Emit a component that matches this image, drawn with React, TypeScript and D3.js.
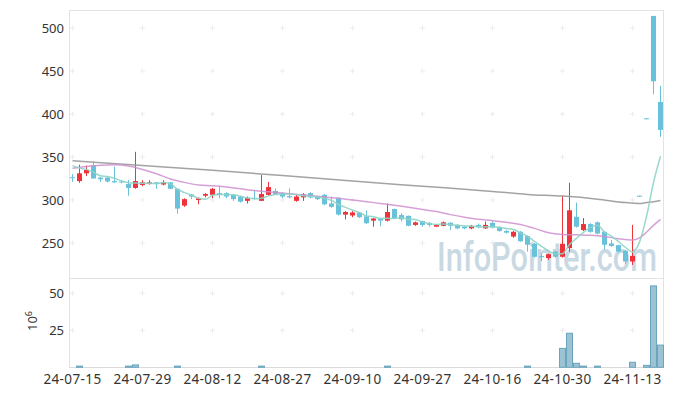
import React from "react";
import * as d3 from "d3";

const dates = [
  "24-07-15","24-07-16","24-07-17","24-07-18","24-07-19","24-07-22","24-07-23","24-07-24","24-07-25","24-07-26",
  "24-07-29","24-07-30","24-07-31","24-08-01","24-08-02","24-08-05","24-08-06","24-08-07","24-08-08","24-08-09",
  "24-08-12","24-08-13","24-08-14","24-08-16","24-08-19","24-08-20","24-08-21","24-08-22","24-08-23","24-08-26",
  "24-08-27","24-08-28","24-08-29","24-08-30","24-09-02","24-09-03","24-09-04","24-09-05","24-09-06","24-09-09",
  "24-09-10","24-09-11","24-09-12","24-09-13","24-09-19","24-09-20","24-09-23","24-09-24","24-09-25","24-09-26",
  "24-09-27","24-09-30","24-10-02","24-10-04","24-10-07","24-10-08","24-10-10","24-10-11","24-10-14","24-10-15",
  "24-10-16","24-10-17","24-10-18","24-10-21","24-10-22","24-10-23","24-10-24","24-10-25","24-10-28","24-10-29",
  "24-10-30","24-10-31","24-11-01","24-11-04","24-11-05","24-11-06","24-11-07","24-11-08","24-11-11","24-11-12",
  "24-11-13","24-11-14","24-11-15","24-11-18","24-11-19",
];

const openP = [
  326.5,322,331,340.5,326,326,322,321.5,318.5,314,
  317.5,318.5,320.5,318,320.5,313,293.5,306.5,300,305,
  306,308,308,306,304,299,302.5,299,306,310.5,
  308,304.5,299,303,308,304,306,296,302.5,283,
  282,285.5,281,276,278.5,276,289.5,282.5,281.5,271,
  275.5,273,269,270,273.5,271,269,267,271,267,
  273.5,268.5,264,257.5,263,258,249,235,232.5,240,
  234,244,280.5,265,272,274,263,249.5,247.5,241,
  228.5,305,395,514,414,
];
const highP = [
  330,341,340,344.5,327,327,339,322.5,323,356,
  323,323,321,323,321,313,302,307,303,308,
  314,316,309,307,305,304,311,329,321,313.5,
  309,313.5,306,308,309,305,307,304,303,287,
  287,286,288,279,279,296,290,284.5,282,275,
  276,274.5,272,275,274,272,270,271,272.5,275,
  275,269,265,264,264,259,250,238,237.5,241,
  305,320,297,279,273,275,264,253.5,248,242,
  271,305,395,514,432.5,
];
const lowP = [
  321,320,328,325,321,320.5,320,319.5,305,313,
  316,318,313,317,312.5,284,292,301,295,303,
  302,302,302,299,297,296,300.5,299,305,306,
  302,302,298,299,302,300,294,291,282,277.5,
  280,279,272,269,269.5,275,278,275,269.5,270,
  269,269,268.5,269.5,265,266,266,266,267,266.5,
  267,263,261,256,251.5,240,233,229,230.5,233,
  233,240,268,264,262,260,242.5,245.5,239,225.5,
  224.5,305,395,423,373.5,
];
const closeP = [
  325.8,331,335,325,324,321.5,320.5,320.5,314,322,
  320.5,320.5,318.5,320.5,313,290,301,304,302,307,
  313,306,304,301,298,302.5,301.5,307,315,306.5,
  304,303,304,306.5,303,301,295,292,283,286,
  285.5,280,273,278.5,276,286,279,277.5,270,274,
  271,271,271,274,270,267,267,270,269,271,
  268,264,262,263,252,248,234,233.5,237,234,
  249,288,269,272,263,261,248,246.5,240,228.5,
  235,305,395,438,381.5,
];
// trading volume, millions of shares
const volume = [
  0.2,0.8,0.2,0.3,0.2,0.2,0.2,0.2,0.8,1.6,
  0.3,0.2,0.2,0.2,0.2,0.8,0.3,0.2,0.2,0.2,
  0.2,0.2,0.2,0.2,0.2,0.2,0.2,0.8,0.3,0.2,
  0.2,0.2,0.2,0.2,0.2,0.2,0.2,0.2,0.3,0.2,
  0.2,0.2,0.2,0.2,0.2,0.8,0.3,0.2,0.2,0.2,
  0.2,0.2,0.2,0.2,0.2,0.2,0.2,0.2,0.2,0.2,
  0.2,0.2,0.2,0.2,0.2,0.8,0.3,0.2,0.2,0.2,
  12.8,23,2.7,0.8,0.3,0.8,0.3,0.2,0.2,0.3,
  3.4,0.6,1.3,55,15,
];
// closes of the 4 sessions before the window (for the 5-day average)
const priorCloses = [345, 343, 342, 344];
// 20-day average, read at these sessions
const ma20Idx = [0,2,4,6,8,10,12,14,16,18,20,22,24,26,28,30,32,34,36,38,40,42,44,46,48,50,52,54,56,58,60,62,64,66,68,70,72,74,76,78,80,81,82,83,84];
const ma20Val = [337,339,340.5,341,339.5,335.5,330.5,324.5,320.5,317.5,316.5,315,313,311,309.5,308,306.5,305,303.5,302,300,298,296,294,291.5,289,286.5,283,280,277.5,276,274,271.5,267,262,260,259.5,259,257.5,255,253.5,256,262.5,270.5,277.5];
// long average, read at these sessions
const maLongIdx = [0,10,20,30,40,50,60,65,70,75,79,81,82,83,84];
const maLongVal = [345.5,340,334.5,328.5,322,316,310,306.5,304.5,301,297,296,297,298,299.5];

const priceTicks = [250, 300, 350, 400, 450, 500];
const volTicks = [25, 50];

const RED = "#ee333b";
const BLUE = "#6ac2da";

export default function App() {
  const W = 673, H = 396;
  const x = d3.scaleBand<string>().domain(dates).range([69, 664]).padding(0);
  const bw = x.bandwidth();
  const cx = (i: number) => (x(dates[i]) as number) + bw / 2;
  const y = d3.scaleLinear().domain([209.3, 520.9]).range([278, 10]);
  const yv = d3.scaleLinear().domain([0, 60]).range([367.3, 278.5]);

  const all = [...priorCloses, ...closeP];
  const ma5 = closeP.map((_, i) => d3.mean(all.slice(i, i + 5)) as number);

  const line = d3.line<[number, number]>().x(d => d[0]).y(d => d[1]).curve(d3.curveMonotoneX);
  const ma5Path = line(ma5.map((v, i) => [cx(i), y(v)]));
  const ma20Path = line(ma20Idx.map((k, j) => [cx(k), y(ma20Val[j])]));
  const maLongPath = line(maLongIdx.map((k, j) => [cx(k), y(maLongVal[j])]));

  const tickIdx = dates.map((_, i) => i).filter(i => i % 10 === 0);
  const gridColor = "#ececec";
  const plus = (px: number, py: number, key: string) => (
    <g key={key} stroke={gridColor} strokeWidth={1}>
      <line x1={px - 2.5} x2={px + 2.5} y1={py} y2={py} />
      <line x1={px} x2={px} y1={py - 2.5} y2={py + 2.5} />
    </g>
  );

  return (
    <svg width={W} height={H} style={{ position: "absolute", left: 0, top: 0, background: "#fff" }}
      fontFamily="'Noto Sans', sans-serif">
      {/* watermark */}
      <text x={437} y={271} fontSize={40} fontWeight={500} fill="#c9d9e3" textLength={220}
        lengthAdjust="spacingAndGlyphs" fontFamily="Roboto, sans-serif">InfoPointer.com</text>

      {/* grid markers */}
      {tickIdx.map(i => priceTicks.map(t => plus(cx(i), y(t), `p${i}-${t}`)))}
      {tickIdx.map(i => volTicks.map(t => plus(cx(i), yv(t), `v${i}-${t}`)))}

      {/* frame */}
      <rect x={69.5} y={10.5} width={594} height={357} fill="none" stroke="#e3e3e3" />
      <line x1={69.5} x2={663.5} y1={278.5} y2={278.5} stroke="#e3e3e3" />
      <line x1={69.5} x2={663.5} y1={367.5} y2={367.5} stroke="#dadada" />

      {/* candles */}
      {dates.map((d, i) => {
        const o = openP[i], c = closeP[i], h = highP[i], l = lowP[i];
        const up = c > o;
        const col = up ? RED : BLUE;
        const left = x(d) as number;
        const top = y(Math.max(o, c));
        const bh = Math.max(1, y(Math.min(o, c)) - top);
        return (
          <g key={d} fill={col}>
            <rect x={left + 3} width={1} y={y(h)} height={Math.max(1, y(l) - y(h))} />
            <rect x={left + 1} width={5} y={top} height={bh} />
          </g>
        );
      })}

      {/* moving averages */}
      <path d={maLongPath || ""} fill="none" stroke="#999999" strokeWidth={1.5} opacity={0.9} />
      <path d={ma20Path || ""} fill="none" stroke="#cf8fd0" strokeWidth={1.5} opacity={0.85} />
      <path d={ma5Path || ""} fill="none" stroke="#8ed4c6" strokeWidth={1.5} opacity={0.9} />

      {/* volume bars */}
      {dates.map((d, i) => {
        const v = volume[i];
        const top = yv(v);
        const hgt = yv(0) - top;
        return hgt >= 1 ? (
          <rect key={`vb${d}`} x={(x(d) as number) + 0.5} width={bw - 1} y={top} height={hgt}
            fill="#9cc3d3" stroke="#6aa4bd" strokeWidth={1} />
        ) : null;
      })}

      {/* y labels */}
      {priceTicks.map(t => (
        <text key={`yl${t}`} x={64} y={y(t)} dy="0.35em" textAnchor="end" fontSize={13} fill="#333">{t}</text>
      ))}
      {volTicks.map(t => (
        <text key={`vl${t}`} x={64} y={yv(t)} dy="0.35em" textAnchor="end" fontSize={13} fill="#333">{t}</text>
      ))}
      <text transform="translate(37,321) rotate(-90)" textAnchor="middle" fontSize={13} fill="#333">
        10<tspan dy={-5} fontSize={9}>6</tspan>
      </text>

      {/* x labels */}
      {tickIdx.map(i => (
        <text key={`xl${i}`} x={cx(i)} y={383.5} textAnchor="middle" fontSize={13.5} letterSpacing={0.4}
          fill="#333">{dates[i]}</text>
      ))}
    </svg>
  );
}
